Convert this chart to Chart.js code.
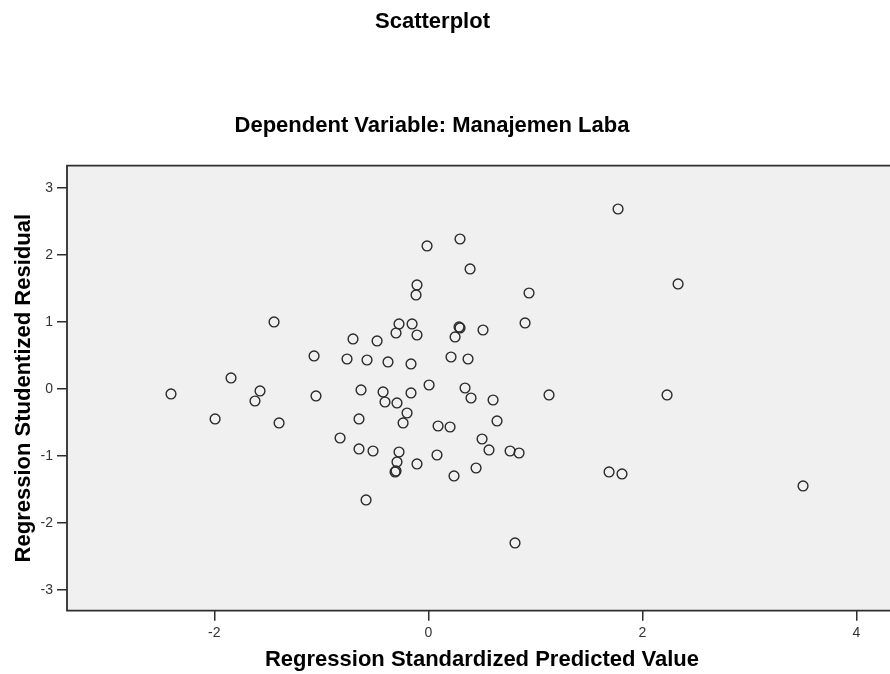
<!DOCTYPE html>
<html>
<head>
<meta charset="utf-8">
<script src="https://cdn.jsdelivr.net/npm/chart.js@4.4.1/dist/chart.umd.min.js"></script>
<style>
  html, body { margin: 0; padding: 0; background: #fff; overflow: hidden; }
  #wrap { width: 897px; height: 674px; }
</style>
</head>
<body>
<div id="wrap"><canvas id="scatter" width="897" height="674"></canvas></div>
<script>
// Regression Standardized Predicted Value
const predicted = [
  -2.405, -1.993, -1.844, -1.573, -1.620, -1.395, -1.442, -1.068, -1.050,
  -0.012, -0.106, -0.115, -0.274, -0.152, -0.302, -0.106, -0.704, -0.479,
  -0.760, -0.573, -0.377, -0.162, -0.629, -0.423, -0.162, 0.007, -0.405,
  -0.293, -0.199, -0.236, -0.648, -0.825, -0.648, -0.517, -0.274, -0.293,
  -0.311, -0.302, -0.106, 0.091, 0.081, -0.582, 0.296, 0.390, 0.941,
  0.904, 0.296, 0.287, 0.250, 0.511, 0.212, 0.371, 0.343, 0.399,
  0.605, 1.128, 0.203, 0.642, 0.502, 0.567, 0.764, 0.848, 0.446,
  0.240, 0.810, 1.773, 2.334, 2.231, 1.689, 1.810, 3.502
];
// Regression Studentized Residual
const residual = [
  -0.079, -0.452, 0.160, -0.034, -0.184, -0.512, 0.996, 0.488, -0.109,
  2.130, 1.548, 1.399, 0.966, 0.966, 0.831, 0.801, 0.742, 0.712,
  0.443, 0.428, 0.399, 0.369, -0.019, -0.049, -0.064, 0.055, -0.199,
  -0.213, -0.363, -0.512, -0.452, -0.736, -0.900, -0.930, -0.945, -1.094,
  -1.243, -1.228, -1.124, -0.557, -0.990, -1.661, 2.234, 1.787, 1.428,
  0.981, 0.906, 0.921, 0.772, 0.876, 0.473, 0.443, 0.010, -0.139,
  -0.169, -0.094, -0.572, -0.482, -0.751, -0.915, -0.930, -0.960, -1.184,
  -1.303, -2.303, 2.682, 1.563, -0.094, -1.243, -1.273, -1.452
];
const xTicks = [-2, 0, 2, 4];
const yTicks = [-3, -2, -1, 0, 1, 2, 3];

const chartTitle = 'Scatterplot';
const chartSubtitle = 'Dependent Variable: Manajemen Laba';

const points = predicted.map((x, i) => ({ x: x, y: residual[i] }));

const tickFont = { family: "'Liberation Sans', Arial, sans-serif", size: 14 };
const titleFont = { family: "'Liberation Sans', Arial, sans-serif", size: 22, weight: 'bold' };

// plot area background and frame (right edge falls outside the window)
const plotFrame = {
  id: 'plotFrame',
  beforeDatasetsDraw(chart) {
    const { ctx, chartArea: a } = chart;
    ctx.save();
    ctx.fillStyle = '#f0f0f0';
    ctx.fillRect(a.left, a.top, a.right - a.left, a.bottom - a.top);
    ctx.strokeStyle = '#2e2e2e';
    ctx.lineWidth = 1.8;
    ctx.beginPath();
    ctx.moveTo(a.right + 2, a.top);
    ctx.lineTo(a.left, a.top);
    ctx.lineTo(a.left, a.bottom);
    ctx.lineTo(a.right + 2, a.bottom);
    ctx.stroke();
    ctx.restore();
  }
};

// headings, centred like the SPSS output (not on the canvas centre)
const headings = {
  id: 'headings',
  afterDraw(chart) {
    const ctx = chart.ctx;
    ctx.save();
    ctx.fillStyle = '#000';
    ctx.font = 'bold 22px "Liberation Sans", Arial, sans-serif';
    ctx.textAlign = 'center';
    ctx.textBaseline = 'middle';
    ctx.fillText(chartTitle, 432.5, 22.3);
    ctx.fillText(chartSubtitle, 432, 125.8);
    ctx.restore();
  }
};

new Chart(document.getElementById('scatter').getContext('2d'), {
  type: 'scatter',
  data: {
    datasets: [{
      data: points,
      pointRadius: 4.9,
      pointHoverRadius: 4.9,
      borderWidth: 1.4,
      borderColor: '#2a2a2a',
      backgroundColor: 'rgba(0,0,0,0)'
    }]
  },
  options: {
    responsive: false,
    animation: false,
    events: [],
    layout: { autoPadding: false, padding: { top: 165.7, left: 0, right: 0, bottom: 0 } },
    plugins: {
      legend: { display: false },
      tooltip: { enabled: false },
      title: { display: false }
    },
    scales: {
      x: {
        type: 'linear',
        min: -3.377,
        max: 4.380,
        afterBuildTicks: (axis) => { axis.ticks = xTicks.map(v => ({ value: v })); },
        afterFit: (axis) => {
          axis.height = 63.3;
          axis.paddingLeft = 0;
          axis.paddingRight = 0;
        },
        ticks: { color: '#333', font: tickFont, padding: 4, callback: (v) => String(v) },
        grid: { drawOnChartArea: false, drawTicks: true, tickLength: 10, tickColor: '#2e2e2e', lineWidth: 1.5 },
        border: { display: false },
        title: {
          display: true,
          text: 'Regression Standardized Predicted Value',
          color: '#000',
          font: titleFont,
          padding: { top: 0, bottom: 1 }
        }
      },
      y: {
        type: 'linear',
        min: -3.314,
        max: 3.328,
        afterBuildTicks: (axis) => { axis.ticks = yTicks.map(v => ({ value: v })); },
        afterFit: (axis) => {
          axis.width = 67;
          axis.paddingTop = 0;
          axis.paddingBottom = 0;
        },
        ticks: { color: '#333', font: tickFont, padding: 4, callback: (v) => String(v) },
        grid: { drawOnChartArea: false, drawTicks: true, tickLength: 10, tickColor: '#2e2e2e', lineWidth: 1.5 },
        border: { display: false },
        title: {
          display: true,
          text: 'Regression Studentized Residual',
          color: '#000',
          font: titleFont,
          padding: { top: 11, bottom: 0 }
        }
      }
    }
  },
  plugins: [plotFrame, headings]
});
</script>
</body>
</html>
